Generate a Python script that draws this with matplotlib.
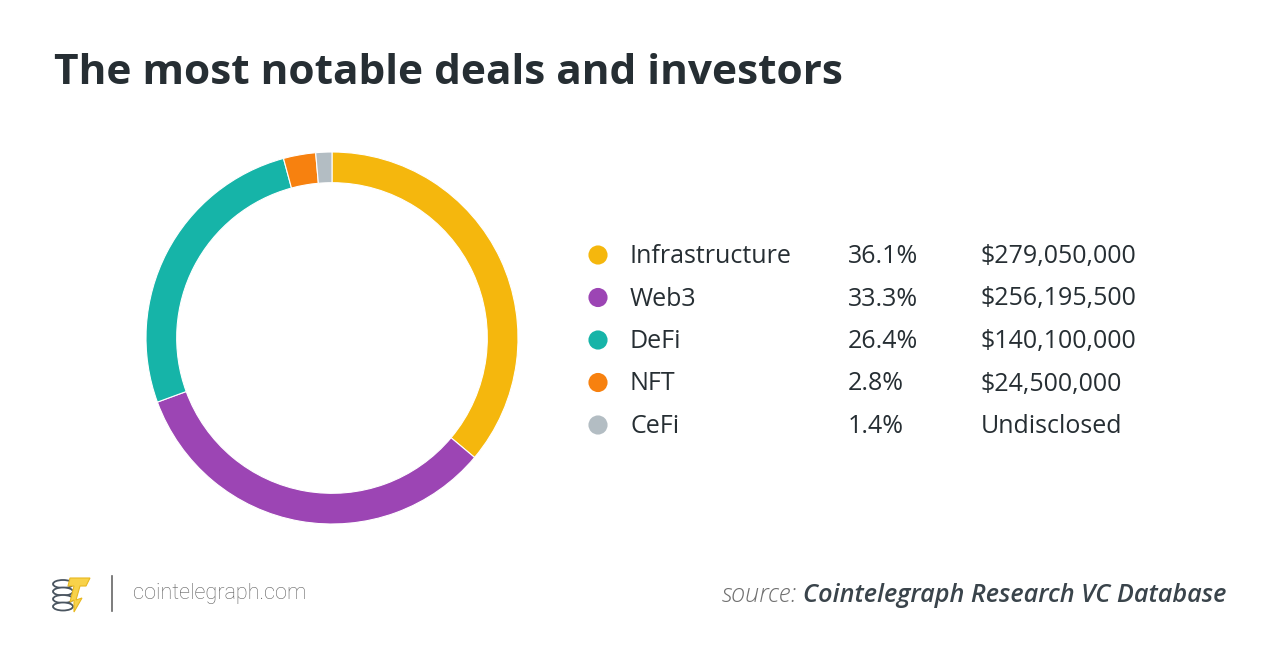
import matplotlib
matplotlib.use("Agg")
import matplotlib.pyplot as plt
from matplotlib.patches import Ellipse, Polygon

# data
categories = ["Infrastructure", "Web3", "DeFi", "NFT", "CeFi"]
shares = [36.1, 33.3, 26.4, 2.8, 1.4]
share_labels = ["36.1%", "33.3%", "26.4%", "2.8%", "1.4%"]
amounts = ["$279,050,000", "$256,195,500", "$140,100,000", "$24,500,000", "Undisclosed"]
colors = ["#F5B70D", "#9C45B4", "#16B4A8", "#F7810F", "#B3BDC3"]

W, H = 1280, 666
DARK = "#262E33"
plt.rcParams["font.family"] = ["Open Sans", "DejaVu Sans"]

fig = plt.figure(figsize=(W / 100, H / 100), dpi=100)
fig.patch.set_facecolor("white")

# overlay in pixel coords for text and markers
ov = fig.add_axes([0, 0, 1, 1])
ov.set_xlim(0, W)
ov.set_ylim(H, 0)
ov.axis("off")

# donut
cx, cy, r = 332, 338, 186
ax = fig.add_axes([(cx - r) / W, (H - cy - r) / H, 2 * r / W, 2 * r / H])
ax.pie(shares, colors=colors, startangle=90, counterclock=False, radius=1,
       wedgeprops=dict(width=0.165, edgecolor="white", linewidth=0.8))
ax.set_xlim(-1, 1)
ax.set_ylim(-1, 1)
ax.set_aspect("equal")
ax.axis("off")

# title
ov.text(54, 73, "The most notable deals and investors", fontsize=30.5,
        fontweight="bold", color=DARK, va="center", ha="left")

# legend table
row_y0, row_step = 256.5, 42.5
for i, cat in enumerate(categories):
    y = row_y0 + i * row_step
    ov.scatter([598], [y - 1.5], s=190, color=colors[i], edgecolors="none")
    ov.text(630, y, cat, fontsize=18, color=DARK, va="center", ha="left")
    ov.text(848, y, share_labels[i], fontsize=18, color=DARK, va="center", ha="left")
    ov.text(981, y, amounts[i], fontsize=18, color=DARK, va="center", ha="left")

# footer logo (rough coin stack + bolt)
for k in range(4):
    ov.add_patch(Ellipse((63, 584 + k * 7.5), 20, 8, facecolor="white",
                         edgecolor="#4A5560", linewidth=1.3, zorder=3 + k))
ov.add_patch(Polygon([[70, 578], [90, 578], [86, 586], [80, 586], [76, 600],
                      [82, 598], [74, 612], [74, 600], [70, 602], [74, 586], [68, 586]],
                     closed=True, facecolor="#F8D24A", edgecolor="#E8B820",
                     linewidth=0.8, zorder=10))
ov.plot([112, 112], [576, 611], color="#666666", linewidth=1.2)
ov.text(133, 594, "cointelegraph.com", fontsize=15.6, color="#626262",
        family=["Roboto", "DejaVu Sans"], fontweight="light", va="center", ha="left")

# source
src_main = ov.text(1226, 596, "Cointelegraph Research VC Database", fontsize=18.2,
                   color="#3A444B", fontweight="semibold", style="italic",
                   va="center", ha="right")
fig.canvas.draw()
bb = src_main.get_window_extent()
xl, _ = ov.transData.inverted().transform((bb.x0, 0))
ov.text(xl - 6, 596, "source:", fontsize=18.2, color="#6F6F6F",
        fontweight="light", style="italic", va="center", ha="right")

fig.savefig("out.png", dpi=100, facecolor="white")
